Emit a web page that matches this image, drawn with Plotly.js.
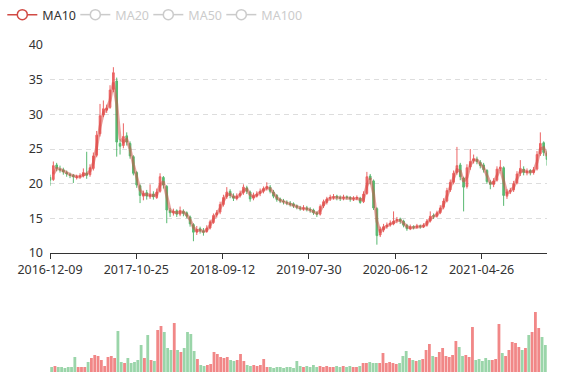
<!DOCTYPE html>
<html>
<head>
<meta charset="utf-8">
<script src="https://cdn.plot.ly/plotly-3.0.1.min.js"></script>
<style>html,body{margin:0;padding:0;background:#fff;}#chart{width:577px;height:380px;}</style>
</head>
<body>
<div id="chart"></div>
<script>
// Tick labels shown on the category axis (one every 215 trading days)
const tickLabels = ['2016-12-09', '2017-10-25', '2018-09-12', '2019-07-30', '2020-06-12', '2021-04-26'];

// Aggregated candles (each ~8 trading days)
const open = [20.9,20.6,22.7,22.1,22.0,21.6,21.3,21.2,20.9,21.0,21.1,21.5,21.3,22.2,24.1,27.2,29.9,30.6,31.0,33.6,
34.8,25.8,25.5,26.9,25.8,23.9,21.6,19.7,18.2,18.7,18.1,18.5,18.0,18.9,20.9,19.6,16.1,15.8,16.1,15.6,
16.0,15.8,15.2,14.1,13.0,13.5,13.2,13.1,13.6,14.4,15.5,15.9,17.0,18.1,18.9,18.2,17.9,18.3,18.7,19.4,
18.8,17.9,18.2,18.6,18.9,19.3,19.5,18.8,18.3,17.8,17.5,17.3,17.2,17.1,16.8,16.5,16.4,16.5,16.3,16.2,
15.8,15.6,16.8,17.3,17.9,18.0,18.2,18.0,17.9,18.1,18.0,17.8,17.9,17.9,17.4,18.6,21.1,20.4,16.4,12.6,
13.3,13.8,14.1,14.2,14.7,14.9,14.6,14.0,13.5,13.8,13.7,13.9,13.8,14.0,14.6,15.4,15.3,15.8,16.6,17.5,
19.1,20.2,21.6,22.7,20.8,19.6,22.4,23.3,23.5,23.1,22.7,21.9,20.2,19.9,20.5,22.2,22.3,18.2,18.9,19.1,
20.1,21.5,22.1,21.6,21.9,21.6,22.1,24.3,25.9,24.4];
const close = [20.5,22.6,22.2,22.0,21.7,21.4,21.2,21.0,21.0,21.1,21.6,21.2,22.3,24.0,27.0,29.8,30.8,30.9,33.5,36.0,
26.0,25.4,26.8,26.0,24.0,21.5,19.8,18.3,18.6,18.2,18.4,18.1,18.8,21.0,19.8,16.2,15.8,16.0,15.6,16.1,
15.7,15.3,14.2,13.0,13.4,13.2,13.0,13.6,14.5,15.4,15.8,17.0,18.0,18.8,18.3,17.9,18.2,18.6,19.5,18.9,
17.8,18.3,18.5,18.9,19.3,19.6,18.9,18.2,17.7,17.5,17.4,17.2,17.0,16.8,16.6,16.4,16.5,16.3,16.2,15.8,
15.6,16.7,17.4,17.8,18.0,18.1,18.0,17.9,18.0,18.0,17.8,17.9,18.0,17.3,18.5,21.0,20.6,16.5,12.5,13.4,
13.8,14.0,14.3,14.6,14.8,14.6,14.0,13.5,13.8,13.7,13.9,13.8,14.0,14.6,15.3,15.3,15.8,16.5,17.5,19.0,
20.2,21.5,22.6,21.0,19.5,22.3,23.2,23.6,23.2,22.6,22.0,20.3,19.9,20.4,22.1,22.4,18.3,18.8,19.0,20.0,
21.4,22.2,21.6,21.8,21.6,22.0,24.2,25.8,24.5,23.5];
const low = [19.7,20.4,21.8,21.6,21.3,21.0,20.8,20.1,20.6,20.7,20.9,20.7,21.0,21.9,23.8,26.8,29.6,30.2,30.8,33.2,
23.9,24.2,25.1,25.5,23.6,21.2,19.4,17.2,17.6,17.7,17.8,17.7,17.8,18.7,19.3,14.3,15.2,15.4,15.2,15.3,
15.3,15.0,13.8,11.7,12.6,12.8,12.5,12.9,13.4,14.2,15.1,15.6,16.7,17.8,17.9,17.5,17.6,18.0,18.4,18.5,
17.4,17.6,18.0,18.2,18.6,19.0,18.6,17.9,17.4,17.2,17.0,16.9,16.7,16.5,16.3,16.1,16.1,16.0,15.8,15.5,
15.2,15.4,16.5,17.0,17.5,17.7,17.6,17.5,17.6,17.7,17.4,17.5,17.6,17.1,17.2,18.4,19.9,16.2,11.2,12.3,
13.0,13.5,13.8,14.0,14.3,14.2,13.7,13.2,13.3,13.4,13.5,13.5,13.6,13.8,14.4,14.9,15.1,15.6,16.3,17.3,
18.8,19.9,21.3,20.5,16.0,19.3,22.0,22.9,22.8,22.2,21.6,20.0,19.2,19.5,20.3,21.8,16.8,17.8,18.5,18.8,
19.9,21.1,21.2,21.2,21.2,21.3,21.9,24.0,24.0,22.6];
const high = [21.3,23.2,23.0,22.6,22.3,21.9,21.6,21.4,21.3,21.5,22.2,24.6,22.8,24.5,27.6,31.5,32.0,31.4,34.2,36.8,
35.3,26.4,28.7,27.4,26.1,24.1,21.8,19.9,19.0,19.1,19.9,18.9,19.3,21.5,21.1,19.8,16.5,16.4,16.3,16.7,
16.3,16.0,15.4,14.3,13.9,13.8,13.6,14.0,14.8,15.7,16.2,17.4,18.4,19.5,19.2,18.6,18.6,19.0,19.9,19.7,
19.0,18.7,18.9,19.3,19.6,20.2,19.8,19.1,18.5,18.0,17.8,17.6,17.5,17.3,17.0,16.8,16.9,16.8,16.6,16.4,
16.0,17.0,17.7,18.1,18.4,18.5,18.4,18.3,18.4,18.3,18.2,18.2,18.3,18.1,18.9,21.7,21.4,20.6,16.6,13.8,
14.2,14.4,14.7,16.0,15.2,15.1,14.8,14.2,14.1,14.0,14.2,14.1,14.3,14.9,16.0,15.7,16.1,16.9,17.9,19.4,
20.6,21.9,25.3,23.0,21.0,22.8,25.0,24.2,23.9,23.4,23.0,22.1,20.5,20.8,22.5,23.4,22.5,19.2,19.4,20.4,
21.8,23.4,22.5,22.2,22.1,22.4,24.7,27.4,26.1,24.8];
const volume = [5,6,5,5,4,5,5,15,5,5,5,10,14,17,16,12,6,15,16,14,
41,10,9,14,9,10,12,27,14,37,12,11,42,46,40,24,22,49,22,20,
24,40,38,21,13,7,6,7,8,20,18,15,14,15,12,11,12,18,11,7,
6,7,6,7,13,5,5,4,5,5,4,5,5,4,11,6,5,6,5,7,
5,6,5,6,5,5,6,5,6,5,6,5,5,6,9,9,10,9,9,9,
19,9,10,9,8,9,16,21,14,12,11,12,13,22,28,16,15,20,24,16,
15,17,31,25,16,17,15,45,12,13,11,14,12,12,13,48,19,16,22,30,
29,25,22,24,37,40,60,44,35,27];
// 10-day moving average line
const ma10 = [null,21.4,22.2,22.1,21.9,21.6,21.3,21.1,21.0,21.0,21.3,21.4,21.8,23.0,25.3,28.2,30.2,30.8,32.0,34.6,
31.5,26.5,26.0,26.4,25.0,22.8,20.8,19.1,18.5,18.4,18.3,18.3,18.4,19.8,20.3,18.2,16.2,15.9,15.8,15.9,
15.9,15.5,14.8,13.7,13.2,13.3,13.1,13.3,14.0,14.9,15.6,16.4,17.5,18.4,18.5,18.1,18.0,18.4,19.0,19.2,
18.4,18.1,18.4,18.7,19.1,19.4,19.3,18.6,18.0,17.6,17.4,17.3,17.1,16.9,16.7,16.5,16.4,16.4,16.2,16.0,
15.7,16.1,17.0,17.6,17.9,18.0,18.0,17.9,17.9,18.0,17.9,17.8,17.9,17.7,17.8,19.7,20.8,18.6,14.6,13.0,
13.6,13.9,14.1,14.4,14.7,14.7,14.3,13.8,13.6,13.7,13.8,13.8,13.9,14.3,14.9,15.3,15.5,16.1,17.0,18.2,
19.6,20.8,22.0,21.8,20.3,20.9,22.7,23.4,23.4,22.9,22.3,21.2,20.1,20.1,21.2,22.2,20.4,18.6,18.9,19.5,
20.7,21.8,21.9,21.7,21.7,21.8,23.1,25.0,25.2,24.0];
const seriesNames = ['MA10', 'MA20', 'MA50', 'MA100'];

const UP = '#eb5454', DOWN = '#47b262', MA_COLOR = '#d14a44';
const N = close.length;
const xs = close.map((_, i) => i);
const tickStep = (N - 1) * 215 / 1238;
const tickvals = tickLabels.map((_, k) => k * tickStep);
const volColors = close.map((c, i) => c >= open[i] ? 'rgba(235,84,84,0.7)' : 'rgba(71,178,98,0.55)');

const traces = [
  {
    type: 'candlestick', x: xs, open: open, close: close, low: low, high: high,
    xaxis: 'x', yaxis: 'y', showlegend: false, hoverinfo: 'skip',
    increasing: {line: {color: UP, width: 1}, fillcolor: UP},
    decreasing: {line: {color: DOWN, width: 1}, fillcolor: DOWN},
    whiskerwidth: 0, opacity: 0.9
  },
  {
    type: 'scatter', mode: 'lines', x: xs, y: ma10, xaxis: 'x', yaxis: 'y',
    line: {color: 'rgba(214,72,66,0.5)', width: 3}, showlegend: false, hoverinfo: 'skip'
  },
  {
    type: 'bar', x: xs, y: volume, xaxis: 'x2', yaxis: 'y2',
    marker: {color: volColors, line: {width: 0}}, showlegend: false, hoverinfo: 'skip'
  }
];
seriesNames.forEach((nm, k) => {
  const on = k === 0;
  const tr = {
    type: 'scatter', mode: 'lines+markers', x: [null], y: [null], xaxis: 'x', yaxis: 'y',
    name: on ? nm : '<span style="color:#999">' + nm + '</span>',
    visible: on ? true : 'legendonly',
    line: {color: on ? MA_COLOR : '#999', width: 1.5},
    marker: {symbol: 'circle', size: 10, color: '#fff', line: {color: on ? MA_COLOR : '#999', width: 1.5}}
  };
  if (k === seriesNames.length - 1) tr.legendwidth = 50;
  traces.push(tr);
});

const layout = {
  width: 577, height: 380,
  margin: {l: 50, r: 30, t: 45, b: 8},
  paper_bgcolor: '#fff', plot_bgcolor: '#fff',
  font: {family: '"Noto Sans", "Open Sans", sans-serif', size: 12, color: '#333'},
  showlegend: true,
  legend: {orientation: 'h', xref: 'container', yref: 'container', x: 0.004, xanchor: 'left', y: 1, yanchor: 'top',
    font: {size: 12.5, color: '#333'}, itemwidth: 30, entrywidth: 28, entrywidthmode: 'pixels', bgcolor: 'rgba(0,0,0,0)'},
  bargap: 0.15,
  xaxis: {
    domain: [0, 1], anchor: 'y', range: [0, N - 1], rangeslider: {visible: false},
    tickmode: 'array', tickvals: tickvals, ticktext: tickLabels,
    showline: true, linecolor: '#333', linewidth: 1, ticks: 'outside', ticklen: 5, tickcolor: '#333',
    showgrid: false, zeroline: false, tickfont: {size: 12.5, color: '#333'}
  },
  yaxis: {
    domain: [0.3639, 1], anchor: 'x', range: [10, 40], dtick: 5, tick0: 10,
    showline: false, ticks: '', zeroline: false, ticklabelstandoff: 6,
    gridcolor: '#dddddd', griddash: '5px,4px', gridwidth: 1, tickfont: {size: 12.5, color: '#333'}
  },
  xaxis2: {domain: [0, 1], anchor: 'y2', range: [-0.5, N - 0.5], visible: false},
  yaxis2: {domain: [0, 0.2202], anchor: 'x2', range: [0, 72], visible: false}
};

Plotly.newPlot('chart', traces, layout, {displayModeBar: false, staticPlot: true});
</script>
</body>
</html>
